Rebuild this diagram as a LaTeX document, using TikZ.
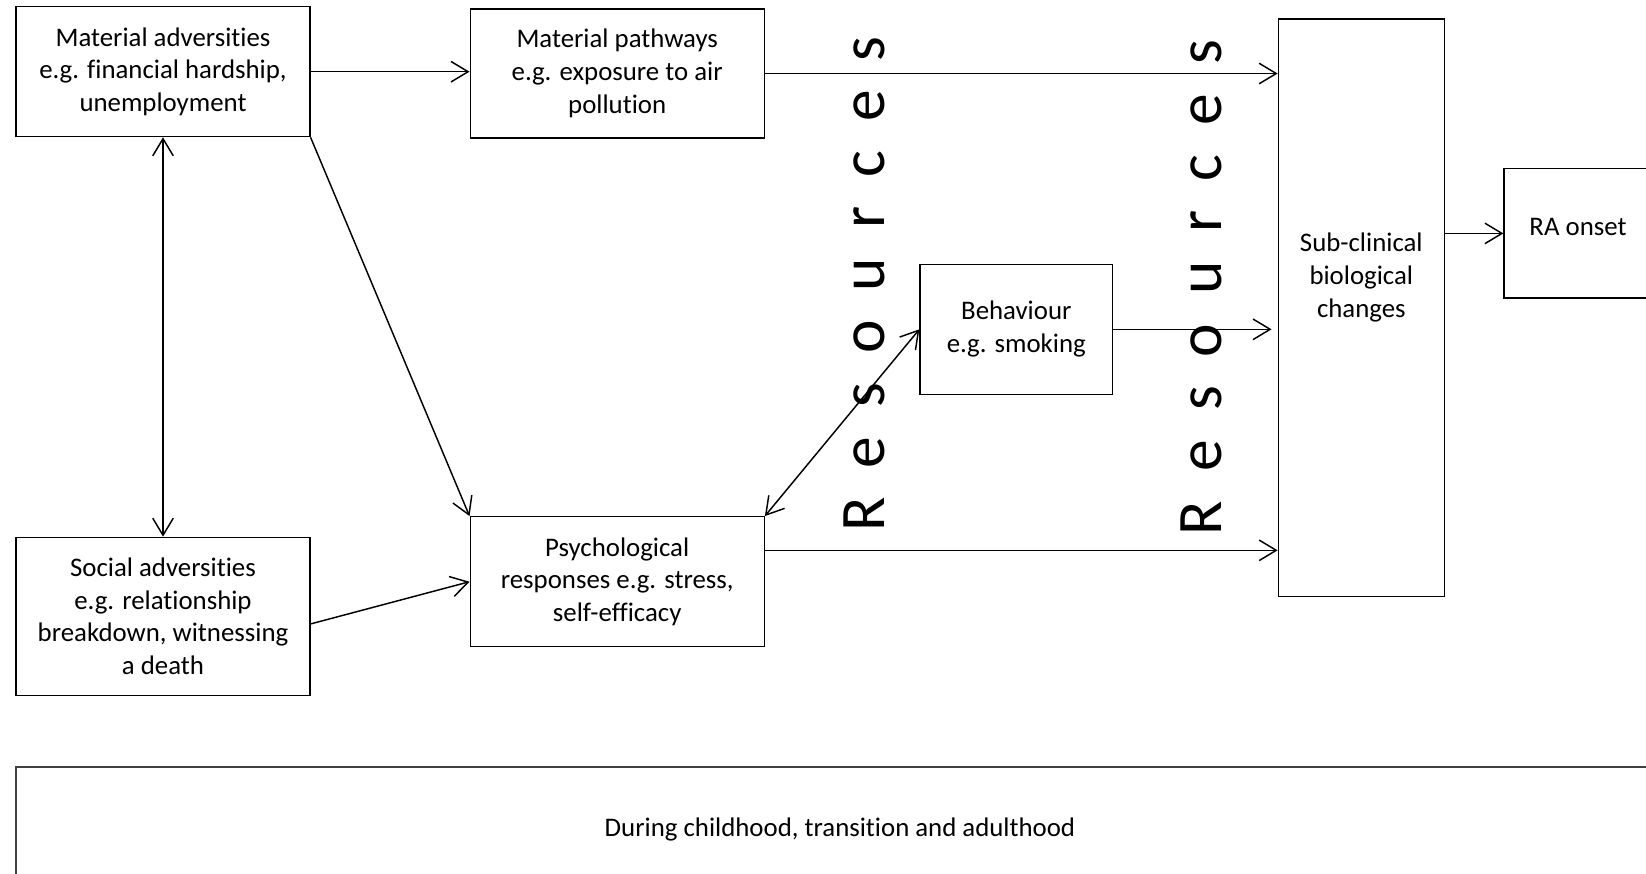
\documentclass[tikz,border=0pt]{standalone}
\usepackage{fontspec}
\setmainfont{Carlito}[Ligatures=NoCommon]
\usepackage{tikz}
\usetikzlibrary{arrows.meta, positioning, calc}
\tikzstyle{box} = [rectangle, draw=black, line width=0.5pt, align=center, inner sep=1mm, font=\fontsize{11}{13.4}\selectfont]
\tikzstyle{arrow} = [line width=0.6pt, -{Straight Barb[length=7pt, width=8.4pt]}]
\tikzstyle{darrow} = [line width=0.6pt, {Straight Barb[length=7pt, width=8.4pt]}-{Straight Barb[length=7pt, width=8.4pt]}]
\tikzstyle{restext} = [rotate=90, anchor=base, inner sep=0pt, font=\fontsize{26}{30}\selectfont]
\newcommand{\spacedword}[1]{{\spaceskip=11.9pt\relax #1}}

\begin{document}
\begin{tikzpicture}[x=0.41pt, y=-0.41pt]
  \useasboundingbox (0,0) rectangle (1646,873);
  \clip (0,0) rectangle (1646,873);

  % Left column
  \node[box, minimum width=120.5pt, minimum height=53.3pt] (matadv) at (163,71.7) {Material adversities\\e.g. financial hardship,\\unemployment};
  \node[box, minimum width=120.5pt, minimum height=64.7pt] (socadv) at (163,616.2) {Social adversities\\e.g. relationship\\breakdown, witnessing\\a death};

  % Middle column
  \node[box, minimum width=120.6pt, minimum height=52.9pt] (matpath) at (617.2,73.5) {Material pathways\\e.g. exposure to air\\pollution};
  \node[box, minimum width=120.6pt, minimum height=53.3pt] (psych) at (617.2,581.7) {Psychological\\responses e.g. stress,\\self-efficacy};
  \node[box, minimum width=79pt, minimum height=53.3pt] (behav) at (1016.3,329.3) {Behaviour\\e.g. smoking};

  % Right
  \node[box, minimum width=68.1pt, minimum height=236.9pt] (subclin) at (1361.3,307.8) {Sub-clinical\\biological\\changes\\\mbox{}\\\mbox{}};
  \node[box, minimum width=60.7pt, minimum height=53pt, text depth=5pt] (ra) at (1578,233.4) {RA onset};

  % Resources
  \node[restext] (res1) at (884,284) {\spacedword{R e s o u r c e s}};
  \node[restext] (res2) at (1221,287.5) {\spacedword{R e s o u r c e s}};

  % Bottom
  \node[box, draw=black!75, line width=0.8pt, minimum width=675.7pt, minimum height=50.8pt] (period) at (840,829) {During childhood, transition and adulthood};

  % Arrows
  \draw[arrow] (matadv.east) -- (matadv.east -| matpath.west);
  \draw[arrow] (matpath.east) -- (matpath.east -| subclin.west);
  \draw[darrow] (matadv.south) -- (socadv.north);
  \draw[arrow] (matadv.south east) -- (psych.north west);
  \draw[arrow] (socadv.-3) -- (psych.west);
  \draw[darrow] (psych.north east) -- (behav.west);
  \draw[arrow, shorten >=2.5pt] (behav.east) -- (behav.east -| subclin.west);
  \draw[arrow] (psych.12) -- (psych.12 -| subclin.west);
  \draw[arrow] (ra.west -| subclin.east) -- (ra.west);
\end{tikzpicture}
\end{document}
